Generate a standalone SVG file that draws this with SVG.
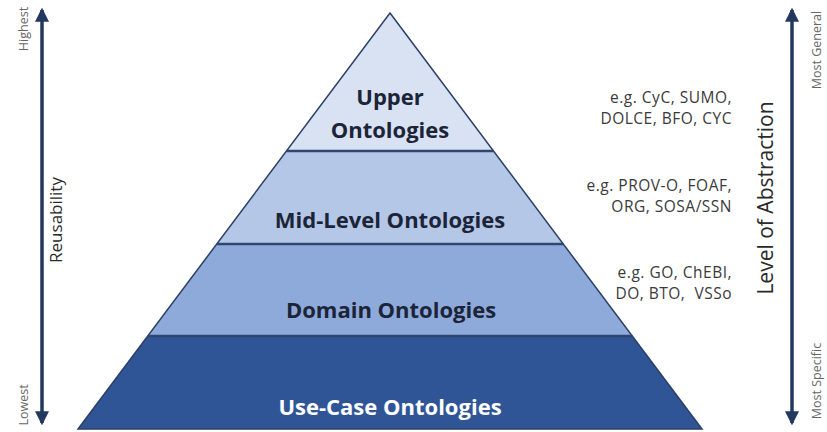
<svg xmlns="http://www.w3.org/2000/svg" width="827" height="432" viewBox="0 0 827 432">
  <defs>
    <marker id="ah" viewBox="0 0 12 12" refX="10" refY="6" markerWidth="4" markerHeight="4" orient="auto-start-reverse" markerUnits="strokeWidth">
      <path d="M0,0 L12,6 L0,12 Z" fill="#23385f"/>
    </marker>
    <style>
      .lbl { font-family: "Open Sans", "Liberation Sans", sans-serif; font-weight: bold; font-size: 22px; fill: #1c2438; text-anchor: middle; }
      .ex { font-family: "Open Sans", "Liberation Sans", sans-serif; font-size: 15.5px; fill: #3a3a3a; text-anchor: end; letter-spacing: 0.5px; }
      .axis { font-family: "Open Sans", "Liberation Sans", sans-serif; fill: #2a2a2a; text-anchor: middle; }
      .small { font-family: "Open Sans", "Liberation Sans", sans-serif; font-size: 12.5px; fill: #666; text-anchor: middle; }
      .sep { stroke: #2f4770; stroke-width: 2.5; }
      .arr { stroke: #23385f; stroke-width: 3.5; fill: none; }
    </style>
  </defs>
  <rect width="827" height="432" fill="#ffffff"/>

  <g id="use-case">
    <polygon points="147.75,336 632.25,336 702,429 78,429" fill="#2f5597"/>
    <text class="lbl" x="390" y="415" style="fill:#ffffff">Use-Case Ontologies</text>
  </g>
  <g id="domain">
    <polygon points="216.75,244 563.25,244 632.25,336 147.75,336" fill="#8eaadb"/>
    <text class="lbl" x="391" y="318">Domain Ontologies</text>
  </g>
  <g id="mid-level">
    <polygon points="286.5,151 493.5,151 563.25,244 216.75,244" fill="#b4c7e7"/>
    <text class="lbl" x="390" y="228">Mid-Level Ontologies</text>
  </g>
  <g id="upper">
    <polygon points="390,13 493.5,151 286.5,151" fill="#d9e2f3"/>
    <text class="lbl" x="390" y="105">Upper</text>
    <text class="lbl" x="390" y="138">Ontologies</text>
  </g>

  <g id="outlines">
    <polygon points="390,13 702,429 78,429" fill="none" stroke="#2b3f66" stroke-width="1.5"/>
    <line class="sep" x1="286.5" y1="151" x2="493.5" y2="151"/>
    <line class="sep" x1="216.75" y1="244" x2="563.25" y2="244"/>
    <line class="sep" x1="147.75" y1="336" x2="632.25" y2="336"/>
  </g>

  <g id="examples">
    <text class="ex" x="732" y="103">e.g. CyC, SUMO,</text>
    <text class="ex" x="732" y="124">DOLCE, BFO, CYC</text>
    <text class="ex" x="732" y="191">e.g. PROV-O, FOAF,</text>
    <text class="ex" x="732" y="212">ORG, SOSA/SSN</text>
    <text class="ex" x="732" y="278">e.g. GO, ChEBI,</text>
    <text class="ex" x="732" y="299" xml:space="preserve">DO, BTO,  VSSo</text>
  </g>

  <g id="connectors">
    <line class="arr" x1="42" y1="10" x2="42" y2="423" marker-start="url(#ah)" marker-end="url(#ah)"/>
    <line class="arr" x1="792" y1="10" x2="792" y2="423" marker-start="url(#ah)" marker-end="url(#ah)"/>
  </g>

  <g id="reusability-axis">
    <text class="axis" font-size="17" transform="translate(62,220) rotate(-90)">Reusability</text>
    <text class="small" transform="translate(28,29) rotate(-90)">Highest</text>
    <text class="small" transform="translate(28,405) rotate(-90)">Lowest</text>
  </g>
  <g id="abstraction-axis">
    <text class="axis" font-size="21" transform="translate(773,198) rotate(-90)">Level of Abstraction</text>
    <text class="small" transform="translate(821,50) rotate(-90)">Most General</text>
    <text class="small" transform="translate(821,381) rotate(-90)">Most Specific</text>
  </g>
</svg>
